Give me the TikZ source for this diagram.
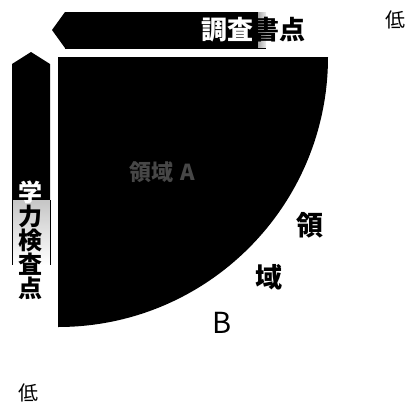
\documentclass[tikz,border=0pt]{standalone}
\usepackage{fontspec}
\setmainfont{Noto Sans CJK JP}
\begin{document}
\begin{tikzpicture}[x=1pt,y=1pt,
  lbl/.style={inner sep=0pt,font=\fontsize{#1}{#1}\selectfont\bfseries},
  lbl/.default=26]
\useasboundingbox (0,0) rectangle (411,-413);
% quarter disc (region A)
\fill[black] (58,-57) -- (328,-57) arc[start angle=0,end angle=-90,radius=270] -- cycle;
% top arrow
\fill[black] (52,-30) -- (65,-12) -- (258,-12) -- (258,-48) -- (65,-48) -- cycle;
\fill[left color=gray!70,right color=gray!15] (258,-12) rectangle (266,-48);
\draw[line width=0.6pt] (65,-48) -- (266,-48);
% left arrow
\fill[black] (31,-52) -- (50,-64) -- (50,-200) -- (12,-200) -- (12,-64) -- cycle;
\fill[top color=gray!45,bottom color=white] (12,-200) rectangle (50,-265);
\draw[line width=0.5pt] (12,-200) -- (12,-265) (50,-200) -- (50,-265);
% labels
\node[lbl=26] (top) at (253,-30) {\textcolor{white}{調査}書点};
\node[lbl=24,align=center] (left) at (31,-240)
  {\fontsize{24}{25.5}\selectfont\bfseries\textcolor{white}{学}\\力\\検\\査\\点};
\node[inner sep=0pt,font=\fontsize{20}{20}\selectfont] (lowtop) at (395,-20) {低};
\node[inner sep=0pt,font=\fontsize{20}{20}\selectfont] (lowleft) at (28,-393) {低};
\node[lbl=22,text=black!72] (regA) at (162,-172) {領域\,\,A};
\node[lbl=27] (ryo) at (310,-225) {領};
\node[lbl=27] (iki) at (269,-277) {域};
\node[inner sep=0pt,font=\fontsize{29}{29}\selectfont] (B) at (222,-323) {B};
\end{tikzpicture}
\end{document}
